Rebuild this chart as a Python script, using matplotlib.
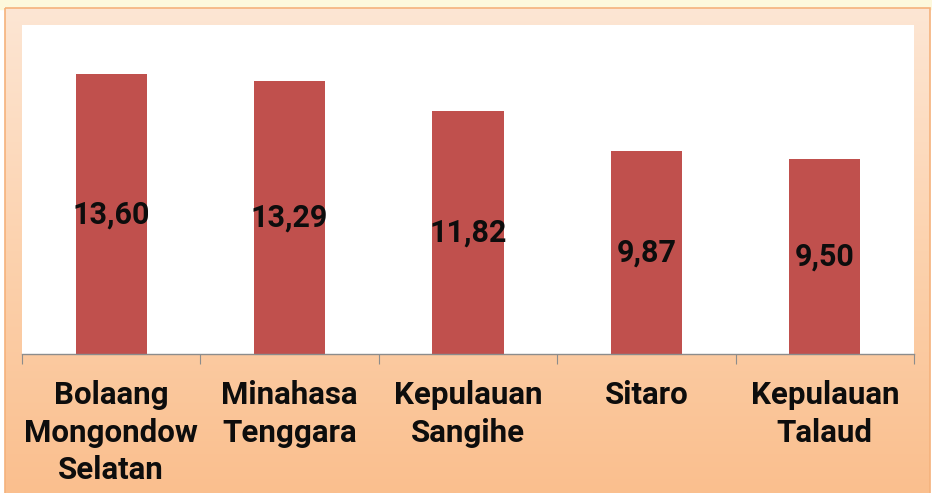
import matplotlib.pyplot as plt
import numpy as np
from matplotlib.colors import LinearSegmentedColormap

# Daten
categories = ["Bolaang\nMongondow\nSelatan", "Minahasa\nTenggara",
              "Kepulauan\nSangihe", "Sitaro", "Kepulauan\nTalaud"]
values = [13.60, 13.29, 11.82, 9.87, 9.50]
value_labels = ["13,60", "13,29", "11,82", "9,87", "9,50"]

plt.rcParams["font.family"] = ["Roboto", "DejaVu Sans"]

W, H = 932, 493
fig = plt.figure(figsize=(W / 100, H / 100), dpi=100)

# Hintergrund: gelber Streifen oben, Verlauf pfirsich -> orange
bg = fig.add_axes([0, 0, 1, 1])
bg.set_xlim(0, W)
bg.set_ylim(H, 0)
bg.axis("off")
bg.add_patch(plt.Rectangle((0, 0), W, 9, color="#fdf8dc", zorder=0))
cmap = LinearSegmentedColormap.from_list("bg", ["#fde6d4", "#fcd2ae", "#fabf8e"])
grad = np.linspace(0, 1, 256).reshape(-1, 1)
bg.imshow(grad, cmap=cmap, aspect="auto", extent=[5, 930, H, 8], zorder=1)
bg.add_patch(plt.Rectangle((5, 8), 925, H, fill=False, ec="#f5b27c", lw=1.2, zorder=2))

# Diagramm
ax = fig.add_axes([22 / W, 1 - 354 / H, (914 - 22) / W, (354 - 25) / H])
ax.set_facecolor("white")
x = np.arange(len(values))
ax.bar(x, values, width=0.4, color="#c0504d", zorder=2)
for xi, v, lab in zip(x, values, value_labels):
    ax.text(xi, v / 2, lab, ha="center", va="center", fontsize=22,
            fontweight="bold", color="#0d0d0d", zorder=3)

ax.set_xlim(-0.5, len(values) - 0.5)
ax.set_ylim(0, 16)
ax.set_yticks([])
for s in ["top", "right", "left"]:
    ax.spines[s].set_visible(False)
ax.spines["bottom"].set_color("#8c8c8c")
ax.spines["bottom"].set_linewidth(1.0)

# Trennstriche zwischen den Kategorien
ax.set_xticks(np.arange(-0.5, len(values)), minor=False)
ax.set_xticklabels([])
ax.tick_params(axis="x", which="major", length=7, color="#8c8c8c", direction="out")
ax.set_xticks(x, minor=True)
ax.set_xticklabels(categories, minor=True, fontsize=22.5, fontweight="bold",
                   color="#0d0d0d", linespacing=1.3)
ax.tick_params(axis="x", which="minor", length=0, pad=19)

fig.savefig("out.png", dpi=100)
